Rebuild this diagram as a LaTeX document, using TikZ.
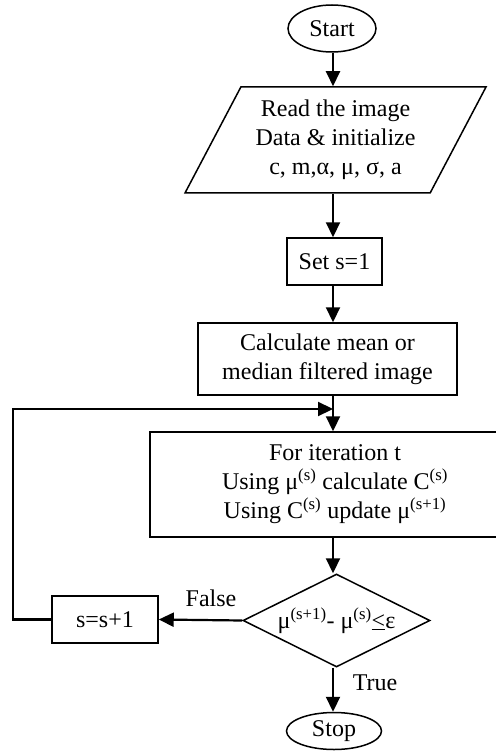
\documentclass[tikz,border=0pt]{standalone}
\usepackage{fontspec}
\setmainfont{Liberation Serif}
\usetikzlibrary{shapes.geometric,arrows.meta}
\begin{document}
\begin{tikzpicture}[x=1pt,y=-1pt,
  box/.style={draw,line width=1.5pt,rectangle,align=center,inner sep=0pt},
  term/.style={draw,line width=1.5pt,ellipse,inner sep=0pt},
  flow/.style={line width=2.2pt,-{Triangle[length=15pt,width=14pt]}},
  font=\fontsize{24}{29}\selectfont]
\useasboundingbox (0,0) rectangle (495,751);
\coordinate (axis) at (333,0);
\coordinate (lp) at (13,409);
\node[term,minimum width=88,minimum height=47] (start) at (332,28.5) {Start};
\node[draw,line width=1.5pt,trapezium,trapezium left angle=55,trapezium right angle=125,
  trapezium stretches body,minimum width=301,minimum height=106,align=center,inner sep=0pt] (read) at (335.5,140)
  {Read the image\\Data \& initialize\\c, m,α, μ, σ, a};
\node[box,minimum width=95,minimum height=47] (set) at (334.5,261.5) {Set s=1};
\node[box,minimum width=259,minimum height=72] (calc) at (327.5,359) {Calculate mean or\\median filtered image};
\node[box,minimum width=370,minimum height=105] (iter) at (335,484.5)
  {For iteration t\\Using μ\textsuperscript{(s)} calculate C\textsuperscript{(s)}\\Using C\textsuperscript{(s)} update μ\textsuperscript{(s+1)}};
\node[draw,line width=1.5pt,diamond,aspect=2,inner sep=0pt,minimum width=187,minimum height=93] (test) at (336.5,620.5)
  {μ\textsuperscript{(s+1)}- μ\textsuperscript{(s)}\underline{<}ε};
\node[box,minimum width=106,minimum height=47] (inc) at (105,619.5) {s=s+1};
\node[term,minimum width=95,minimum height=37] (stop) at (334,731) {Stop};
\node (false) at (211,598) {False};
\node (true) at (375,683) {True};
\draw[flow] (start.south -| axis) -- (read.north -| axis);
\draw[flow] (read.south -| axis) -- (set.north -| axis);
\draw[flow] (set.south -| axis) -- (calc.north -| axis);
\draw[flow] (calc.south -| axis) -- (iter.north -| axis);
\draw[flow] (iter.south -| axis) -- (test.north -| axis);
\draw[flow] (test.west) -- (inc.east);
\draw[flow] (test.south -| axis) -- (stop.north -| axis);
\draw[flow] (inc.west) -| (lp) -- (lp -| axis);
\end{tikzpicture}
\end{document}
